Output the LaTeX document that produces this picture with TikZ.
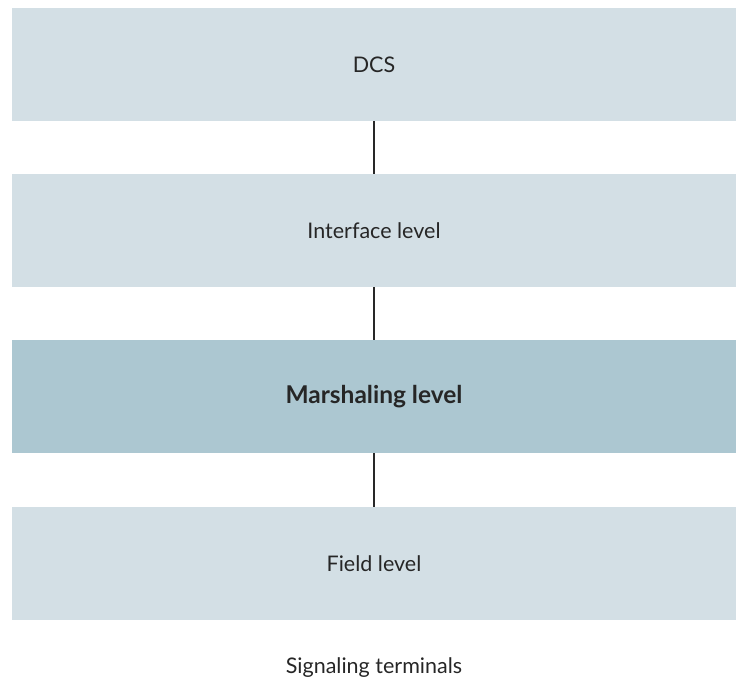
\documentclass[tikz,border=0pt]{standalone}
\usepackage{fontspec}
\setmainfont{Lato}
\usetikzlibrary{positioning}

\definecolor{levelpale}{RGB}{211,223,229}
\definecolor{leveldark}{RGB}{172,199,209}
\definecolor{linkgray}{RGB}{40,40,40}

\begin{document}
\begin{tikzpicture}[x=1pt,y=-1pt,
  levelbox/.style={fill=levelpale,minimum width=724pt,minimum height=113pt,inner sep=0pt,font=\fontsize{21.5}{25}\selectfont,text=black!85},
  link/.style={draw=linkgray,line width=1.2pt}]
  \useasboundingbox (0,0) rectangle (736,681);
  \node[levelbox] (dcs) at (374,64.5) {DCS};
  \node[levelbox] (iface) at (374,230.5) {Interface level};
  \node[levelbox,fill=leveldark,font=\fontsize{24.5}{28}\selectfont\bfseries] (marsh) at (374,396.5) {Marshaling level};
  \node[levelbox] (field) at (374,563.5) {Field level};
  \node[font=\fontsize{21.5}{25}\selectfont,text=black!85] (term) at (374,668) {Signaling terminals};
  \draw[link] (dcs) -- (iface);
  \draw[link] (iface) -- (marsh);
  \draw[link] (marsh) -- (field);
\end{tikzpicture}
\end{document}
